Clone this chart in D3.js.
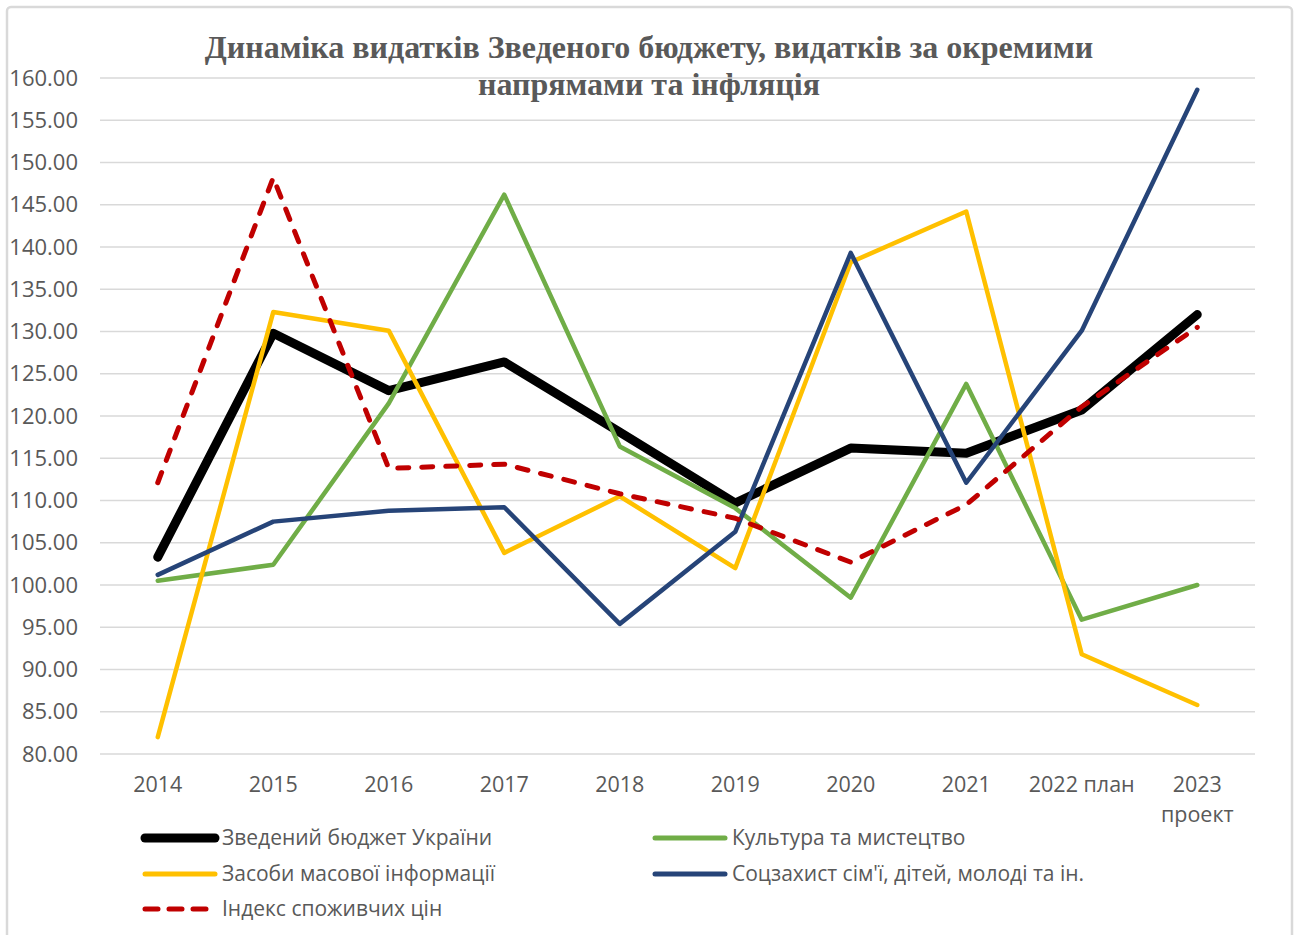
<!DOCTYPE html>
<html>
<head>
<meta charset="utf-8">
<script src="https://cdn.jsdelivr.net/npm/d3@7"></script>
<style>
  body { margin: 0; background: #fff; }
  svg text { font-family: "Open Sans", sans-serif; fill: #595959; }
</style>
</head>
<body>
<div id="chart"></div>
<script>
// categories and series
var years = ["2014", "2015", "2016", "2017", "2018", "2019", "2020", "2021", "2022 план", "2023 проект"];
var budget  = [103.3, 129.8, 123.0, 126.4, 118.1, 109.7, 116.2, 115.6, 120.7, 132.0];
var culture = [100.5, 102.4, 121.5, 146.2, 116.4, 109.1, 98.5, 123.8, 95.9, 100.0];
var media   = [82.0, 132.3, 130.1, 103.8, 110.5, 102.0, 138.2, 144.2, 91.8, 85.8];
var social  = [101.2, 107.5, 108.8, 109.2, 95.4, 106.3, 139.3, 112.1, 130.1, 158.6];
var cpi     = [112.1, 148.2, 113.8, 114.3, 110.8, 107.9, 102.7, 109.5, 121.1, 130.5];
var yTicks  = [80, 85, 90, 95, 100, 105, 110, 115, 120, 125, 130, 135, 140, 145, 150, 155, 160];

var series = [
  {name: "Зведений бюджет України", values: budget, color: "#000000", width: 9, dash: null},
  {name: "Культура та мистецтво", values: culture, color: "#70AD47", width: 4.5, dash: null},
  {name: "Засоби масової інформації", values: media, color: "#FFC000", width: 4.5, dash: null},
  {name: "Соцзахист сім'ї, дітей, молоді та ін.", values: social, color: "#264478", width: 4.5, dash: null},
  {name: "Індекс споживчих цін", values: cpi, color: "#C00000", width: 5, dash: "11,13"}
];

var W = 1298, H = 935;
var margin = {top: 78, right: 43, bottom: 181, left: 100};
var width = W - margin.left - margin.right,
    height = H - margin.top - margin.bottom;

var svg = d3.select("#chart")
  .append("svg")
    .attr("width", W)
    .attr("height", H);

// outer chart frame
svg.append("rect")
  .attr("x", 7).attr("y", 7)
  .attr("width", 1285).attr("height", 940)
  .attr("rx", 4)
  .attr("fill", "none")
  .attr("stroke", "#d9d9d9")
  .attr("stroke-width", 2.5);

// title
var title = svg.append("text")
  .attr("text-anchor", "middle")
  .style("font-family", "'Liberation Serif', 'Times New Roman', serif")
  .style("font-weight", "bold")
  .style("font-size", "32px");
title.append("tspan").attr("x", 649).attr("y", 58).text("Динаміка видатків Зведеного бюджету, видатків за окремими");
title.append("tspan").attr("x", 649).attr("y", 95).text("напрямами та інфляція");

var g = svg.append("g")
  .attr("transform", "translate(" + margin.left + "," + margin.top + ")");

var x = d3.scaleBand()
  .domain(years)
  .range([0, width]);

var y = d3.scaleLinear()
  .domain([80, 160])
  .range([height, 0]);

// gridlines
g.append("g")
  .selectAll("line")
  .data(yTicks)
  .enter().append("line")
    .attr("x1", 0).attr("x2", width)
    .attr("y1", d => y(d)).attr("y2", d => y(d))
    .attr("stroke", "#d9d9d9")
    .attr("stroke-width", 1.5);

// Y axis labels
var yAxis = g.append("g")
  .call(d3.axisLeft(y).tickValues(yTicks).tickFormat(d3.format(".2f")).tickSize(0).tickPadding(22));
yAxis.select(".domain").remove();
yAxis.selectAll("text").style("font-size", "22px").attr("fill", "#595959");

// X axis labels
var xAxis = g.append("g")
  .attr("transform", "translate(0," + height + ")")
  .call(d3.axisBottom(x).tickSize(0).tickPadding(23));
xAxis.select(".domain").remove();
xAxis.selectAll("text")
  .style("font-size", "21.5px")
  .attr("fill", "#595959")
  .each(function(d) {
    var t = d3.select(this);
    if (d === "2023 проект") {
      t.text(null);
      t.append("tspan").attr("x", 0).attr("dy", "0.71em").text("2023");
      t.append("tspan").attr("x", 0).attr("dy", "1.4em").text("проект");
      t.attr("dy", null);
    }
  });

// lines
var line = d3.line()
  .x((d, i) => x(years[i]) + x.bandwidth() / 2)
  .y(d => y(d));

series.forEach(function(s) {
  g.append("path")
    .datum(s.values)
    .attr("fill", "none")
    .attr("stroke", s.color)
    .attr("stroke-width", s.width)
    .attr("stroke-linejoin", "round")
    .attr("stroke-linecap", "round")
    .attr("stroke-dasharray", s.dash)
    .attr("d", line);
});

// legend
var legendPos = [
  {x: 145, y: 838}, {x: 655, y: 838},
  {x: 145, y: 874}, {x: 655, y: 874},
  {x: 145, y: 909}
];
series.forEach(function(s, i) {
  var p = legendPos[i];
  var lg = svg.append("g").attr("transform", "translate(" + p.x + "," + p.y + ")");
  lg.append("line")
    .attr("x1", 0).attr("x2", 70)
    .attr("y1", 0).attr("y2", 0)
    .attr("stroke", s.color)
    .attr("stroke-width", s.width === 9 ? 9 : 5)
    .attr("stroke-linecap", "round")
    .attr("stroke-dasharray", s.dash ? "13,11" : null);
  lg.append("text")
    .attr("x", 77)
    .attr("y", 0)
    .attr("dy", "0.35em")
    .style("font-size", "21px")
    .text(s.name);
});
</script>
</body>
</html>
